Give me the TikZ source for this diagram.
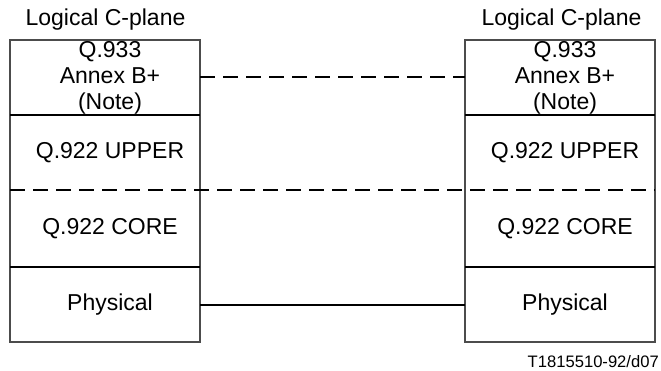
\documentclass[tikz,border=0pt]{standalone}
\usepackage{fontspec}
\setmainfont{Liberation Sans}
\begin{document}
\begin{tikzpicture}[x=1pt,y=-1pt,
  txt/.style={font=\fontsize{23}{26}\selectfont, inner sep=0pt, align=center},
  small/.style={font=\fontsize{16.6}{19}\selectfont, inner sep=0pt},
  layer/.style={minimum width=190pt, minimum height=75pt, inner sep=0pt, outer sep=0pt},
  frame/.style={draw=black!70, line width=1.2pt},
  divider/.style={line width=2pt},
  peer/.style={line width=2pt, dash pattern=on 15pt off 8pt}]
\useasboundingbox (0,0) rectangle (661,371);

% left stack
\node[layer] (lA) at (105,77.5) {};
\node[layer] (lB) at (105,152.5) {};
\node[layer, minimum height=77pt] (lC) at (105,228.5) {};
\node[layer] (lD) at (105,304.5) {};
% right stack
\node[layer] (rA) at (560,77.5) {};
\node[layer] (rB) at (560,152.5) {};
\node[layer, minimum height=77pt] (rC) at (560,228.5) {};
\node[layer] (rD) at (560,304.5) {};

% frames
\draw[frame] (lA.north west) rectangle (lD.south east);
\draw[frame] (rA.north west) rectangle (rD.south east);

% dividers
\draw[divider] (lA.south west) -- (lA.south east);
\draw[divider] (lD.north west) -- (lD.north east);
\draw[divider] (rA.south west) -- (rA.south east);
\draw[divider] (rD.north west) -- (rD.north east);
\draw[peer] (lB.south west) -- (rB.south east);

% peer connections
\draw[peer] (lA.east) -- (rA.west);
\draw[divider] (lD.east) -- (rD.west);

% texts
\node[txt, anchor=base] (ltitle) at (105.5,26) {Logical C-plane};
\node[txt, anchor=base] (rtitle) at (561.5,26) {Logical C-plane};

\node[txt, xshift=5pt] (lAt) at (lA.center) {Q.933\\Annex B+\\(Note)};
\node[txt, xshift=5pt] (lBt) at (lB.center) {Q.922 UPPER};
\node[txt, xshift=5pt] (lCt) at (lC.center) {Q.922 CORE};
\node[txt, xshift=5pt] (lDt) at (lD.center) {Physical};

\node[txt, xshift=5pt] (rAt) at (rA.center) {Q.933\\Annex B+\\(Note)};
\node[txt, xshift=5pt] (rBt) at (rB.center) {Q.922 UPPER};
\node[txt, xshift=5pt] (rCt) at (rC.center) {Q.922 CORE};
\node[txt, xshift=5pt] (rDt) at (rD.center) {Physical};

\node[small, anchor=base east] (fig) at (659,367) {T1815510-92/d07};
\end{tikzpicture}
\end{document}
